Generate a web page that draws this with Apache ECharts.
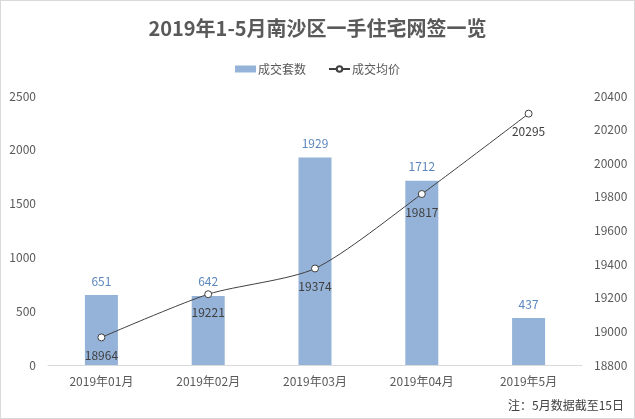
<!DOCTYPE html>
<html><head><meta charset="utf-8">
<script src="https://cdn.jsdelivr.net/npm/echarts@6/dist/echarts.min.js"></script>
<style>html,body{margin:0;padding:0;background:#fff}#c{width:635px;height:419px;box-sizing:border-box;border:1px solid #d9d9d9}</style>
</head><body><div id="c"></div>
<script>
const categories = ['2019年01月','2019年02月','2019年03月','2019年04月','2019年5月'];
const units = [651, 642, 1929, 1712, 437];
const prices = [18964, 19221, 19374, 19817, 20295];
const chart = echarts.init(document.getElementById('c'));
const font = '"Microsoft YaHei","Noto Sans CJK SC",sans-serif';
chart.setOption({
  animation: false,
  textStyle: {fontFamily: font},
  title: {text: '2019年1-5月南沙区一手住宅网签一览', left: 'center', top: 12,
    textStyle: {fontSize: 20, fontWeight: 'bold', color: '#595959', fontFamily: font}},
  legend: {top: 57, left: 'center', itemGap: 22, itemWidth: 21, itemHeight: 7,
    textStyle: {fontSize: 12, color: '#595959', padding: [0, 0, 0, -3]},
    data: [{name: '成交套数', icon: 'rect'}, {name: '成交均价'}]},
  graphic: [{type: 'text', right: 10, top: 398,
    style: {text: '注：5月数据截至15日', fill: '#404040', font: '12px ' + font}}],
  grid: {left: 47, right: 52, top: 95, bottom: 53},
  xAxis: {type: 'category', data: categories,
    axisLine: {lineStyle: {color: '#d9d9d9'}}, axisTick: {show: false},
    axisLabel: {color: '#595959', fontSize: 12, margin: 10}},
  yAxis: [
    {type: 'value', min: 0, max: 2500, interval: 500, splitLine: {show: false},
      axisLabel: {color: '#595959', fontSize: 12, margin: 12, formatter: v => String(v)}},
    {type: 'value', min: 18800, max: 20400, interval: 200, splitLine: {show: false},
      axisLabel: {color: '#595959', fontSize: 12, margin: 12, formatter: v => String(v)}}
  ],
  series: [
    {name: '成交套数', type: 'bar', data: units, barWidth: 33,
      itemStyle: {color: '#95b2d8'},
      label: {show: true, position: 'top', color: '#5b87bd', fontSize: 12, distance: 8}},
    {name: '成交均价', type: 'line', yAxisIndex: 1, data: prices, smooth: 0.25,
      symbol: 'circle', symbolSize: 7,
      lineStyle: {color: '#404040', width: 1},
      itemStyle: {color: '#fff', borderColor: '#404040', borderWidth: 1},
      label: {show: true, position: 'bottom', color: '#404040', fontSize: 12, distance: 8}}
  ]
});
</script></body></html>
